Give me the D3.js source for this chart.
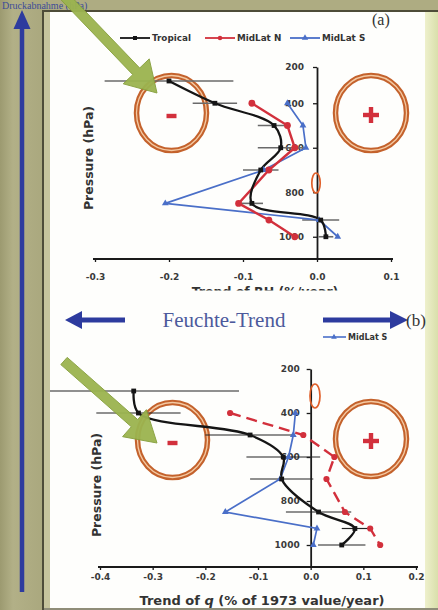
<!DOCTYPE html>
<html><head><meta charset="utf-8">
<script src="https://cdn.jsdelivr.net/npm/d3@7"></script>
<style>
html,body{margin:0;padding:0;background:#aeac82;}
svg{display:block;}
</style></head>
<body>
<script>
// ---------- DATA ----------
const seriesNames = ["Tropical", "MidLat N", "MidLat S"];
const xTicksA = [-0.3, -0.2, -0.1, 0.0, 0.1];
const xTicksB = [-0.4, -0.3, -0.2, -0.1, 0.0, 0.1, 0.2];
const pressureTicks = [200, 400, 600, 800, 1000];

const tropLevels = [300, 400, 500, 600, 700, 850, 925, 1000];
const midLevels  = [400, 500, 600, 700, 850, 925, 1000];

// Panel (a): Trend of RH (%/year)
const tropicalA    = [-0.200, -0.138, -0.058, -0.049, -0.076, -0.088, 0.005, 0.012];
const tropicalErrA = [0.087, 0.030, 0.022, 0.031, 0.024, 0.015, 0.025, 0.010];
const midLatNA     = [-0.088, -0.040, -0.030, -0.065, -0.106, -0.065, -0.030];
const midLatSA     = [-0.040, -0.019, -0.015, -0.072, -0.205, 0.003, 0.028];

// Panel (b): Trend of q (% of 1973 value/year)
const tropicalB    = [-0.336, -0.327, -0.115, -0.052, -0.055, 0.015, 0.084, 0.059];
const tropicalErrB = [0.200, 0.080, 0.085, 0.070, 0.060, 0.062, 0.025, 0.045];
const midLatNB     = [-0.153, -0.014, 0.045, 0.030, 0.065, 0.113, 0.132];
const midLatSB     = [-0.029, -0.033, -0.042, -0.058, -0.162, 0.012, 0.005];

// ---------- STYLE ----------
const C = {black:"#151515", red:"#d2303c", blue:"#4a6fc8", ring:"#c4622c", ringIn:"#f4c9a2",
           green:"#9bb44f", navy:"#2d3b9e", text:"#333"};
const W = 438, H = 610;
const svg = d3.select("body").append("svg").attr("width", W).attr("height", H);
const defs = svg.append("defs");

const lg = defs.append("linearGradient").attr("id","leftg").attr("x1","0").attr("x2","1");
lg.append("stop").attr("offset","0").attr("stop-color","#9c9a70");
lg.append("stop").attr("offset","0.3").attr("stop-color","#b2b087");
lg.append("stop").attr("offset","1").attr("stop-color","#aaa87e");
const rg = defs.append("linearGradient").attr("id","rightg").attr("x1","0").attr("x2","1");
rg.append("stop").attr("offset","0").attr("stop-color","#eef0cc");
rg.append("stop").attr("offset","1").attr("stop-color","#d9dfab");

// background frame
svg.append("rect").attr("width",W).attr("height",H).attr("fill","#aeac82");
svg.append("rect").attr("x",0).attr("y",0).attr("width",43).attr("height",H).attr("fill","url(#leftg)");
svg.append("rect").attr("x",44).attr("y",11).attr("width",8).attr("height",H).attr("fill","#c6c49c");
svg.append("rect").attr("x",425).attr("y",11).attr("width",13).attr("height",H).attr("fill","url(#rightg)");
svg.append("rect").attr("x",50).attr("y",12).attr("width",375).attr("height",596).attr("fill","#fefefc");
svg.append("rect").attr("x",44).attr("y",608).attr("width",394).attr("height",2).attr("fill","#8f8d78");

// top title strip
svg.append("text").attr("x",2).attr("y",8.5).attr("font-family","Liberation Serif, serif")
  .attr("font-size",10).attr("fill","#3c4c98").text("Druckabnahme (hPa)");

svg.append("line").attr("x1",43).attr("x2",43).attr("y1",10).attr("y2",H)
  .attr("stroke","#4e4c38").attr("stroke-width",2);
svg.append("line").attr("x1",43).attr("x2",W).attr("y1",11).attr("y2",11)
  .attr("stroke","#4e4c38").attr("stroke-width",2);

// vertical blue arrow
svg.append("line").attr("x1",22).attr("x2",22).attr("y1",592).attr("y2",24)
  .attr("stroke",C.navy).attr("stroke-width",4.5);
svg.append("path").attr("d","M22,10 L13.5,29 L30.5,29 Z").attr("fill",C.navy);

defs.append("clipPath").attr("id","panelclip").append("rect")
  .attr("x",50).attr("y",12).attr("width",375).attr("height",596);

// ---------- helpers ----------
function ring(g, cx, cy, rx, ry){
  g.append("ellipse").attr("cx",cx).attr("cy",cy).attr("rx",rx).attr("ry",ry)
    .attr("fill","none").attr("stroke",C.ring).attr("stroke-width",5.5);
  g.append("ellipse").attr("cx",cx).attr("cy",cy).attr("rx",rx).attr("ry",ry)
    .attr("fill","none").attr("stroke",C.ringIn).attr("stroke-width",1.3);
}
function minus(g, cx, cy){
  g.append("rect").attr("x",cx-5).attr("y",cy-2.2).attr("width",10).attr("height",4.4).attr("fill",C.red);
}
function plus(g, cx, cy){
  g.append("rect").attr("x",cx-8).attr("y",cy-2.2).attr("width",16).attr("height",4.4).attr("fill",C.red);
  g.append("rect").attr("x",cx-2.2).attr("y",cy-8).attr("width",4.4).attr("height",16).attr("fill",C.red);
}
function greenArrow(g, x0, y0, x1, y1){
  const dx=x1-x0, dy=y1-y0, L=Math.hypot(dx,dy), ux=dx/L, uy=dy/L, nx=-uy, ny=ux;
  const sw=4.8, hl=30, hh=18, bx=x1-ux*hl, by=y1-uy*hl;
  const pts=[[x0+nx*sw,y0+ny*sw],[bx+nx*sw,by+ny*sw],[bx+nx*hh,by+ny*hh],[x1,y1],
             [bx-nx*hh,by-ny*hh],[bx-nx*sw,by-ny*sw],[x0-nx*sw,y0-ny*sw]];
  g.append("path").attr("d","M"+pts.map(p=>p.join(",")).join("L")+"Z")
    .attr("fill",C.green).attr("stroke","#87a03d").attr("stroke-width",1).attr("opacity",0.95);
}
function zeroMark(g, cx, cy, rx, ry){
  g.append("ellipse").attr("cx",cx).attr("cy",cy).attr("rx",rx).attr("ry",ry)
    .attr("fill","none").attr("stroke","#e0602a").attr("stroke-width",1.7);
}
function legendItem(g, x, y, name, color, sym, dashed){
  g.append("line").attr("x1",x).attr("x2",x+30).attr("y1",y).attr("y2",y)
    .attr("stroke",color).attr("stroke-width",1.8).attr("stroke-dasharray",dashed?"5,3":null);
  g.append("path").attr("transform",`translate(${x+15},${y})`)
    .attr("d",d3.symbol().type(sym).size(sym===d3.symbolTriangle?18:16)()).attr("fill",color);
  g.append("text").attr("x",x+32).attr("y",y+3.2).attr("font-family","DejaVu Sans, sans-serif")
    .attr("font-weight","bold").attr("font-size",8.8).attr("fill",C.text).text(name);
}

function drawPanel(cfg){
  const g = svg.append("g").attr("clip-path","url(#panelclip)");
  const x = cfg.x, y = cfg.y;
  ring(g, cfg.minusC[0], cfg.minusC[1], 35, 37.5);
  minus(g, cfg.minusC[0], cfg.minusC[1]+3);
  ring(g, cfg.plusC[0], cfg.plusC[1], 35.5, 37.5);
  plus(g, cfg.plusC[0], cfg.plusC[1]+2);

  const x0 = x(0), yBottom = y(1100);
  const xAxis = g.append("g").attr("transform",`translate(0,${yBottom})`)
    .call(d3.axisBottom(x).tickValues(cfg.xTicks).tickFormat(d=>d.toFixed(1))
      .tickSize(3).tickSizeOuter(0).tickPadding(cfg.xPad));
  const yAxis = g.append("g").attr("transform",`translate(${x0},0)`)
    .call(d3.axisLeft(y).tickValues(pressureTicks).tickFormat(d3.format("d"))
      .tickSize(4).tickSizeOuter(0).tickPadding(cfg.yPad));
  [xAxis,yAxis].forEach(a=>{
    a.select(".domain").attr("stroke","#1a1a1a").attr("stroke-width",1.8);
    a.selectAll(".tick line").attr("stroke","#1a1a1a").attr("stroke-width",1.3);
    a.selectAll("text").attr("font-family","DejaVu Sans, sans-serif").attr("font-weight","bold")
      .attr("font-size",9).attr("fill","#3a3a3a");
  });
  xAxis.select(".domain").attr("d",`M${x.range()[0]-2},0H${x.range()[1]+2}`);

  zeroMark(g, cfg.zeroC[0], cfg.zeroC[1], cfg.zeroC[2], cfg.zeroC[3]);

  g.append("text").attr("transform",`translate(${cfg.ylabX},${cfg.ylabY}) rotate(-90)`)
    .attr("text-anchor","middle").attr("font-family","DejaVu Sans, sans-serif").attr("font-weight","bold")
    .attr("font-size",12.5).attr("fill",C.text).text("Pressure (hPa)");

  g.append("g").selectAll("line").data(tropLevels).join("line")
    .attr("x1",(p,i)=>x(cfg.trop[i]-cfg.err[i])).attr("x2",(p,i)=>x(cfg.trop[i]+cfg.err[i]))
    .attr("y1",p=>y(p)).attr("y2",p=>y(p))
    .attr("stroke",cfg.errColor).attr("stroke-width",cfg.errW);

  const lin = d3.line().x(d=>x(d[1])).y(d=>y(d[0]));
  const smooth = d3.line().x(d=>x(d[1])).y(d=>y(d[0])).curve(d3.curveCatmullRom.alpha(0.5));
  const sS = midLevels.map((p,i)=>[p,cfg.mS[i]]);
  const sN = midLevels.map((p,i)=>[p,cfg.mN[i]]);
  const sT = tropLevels.map((p,i)=>[p,cfg.trop[i]]);
  g.append("path").attr("d",lin(sS)).attr("fill","none").attr("stroke",C.blue).attr("stroke-width",1.7);
  g.append("path").attr("d",lin(sN)).attr("fill","none").attr("stroke",C.red).attr("stroke-width",2.4)
    .attr("stroke-dasharray",cfg.redDash);
  g.append("path").attr("d",smooth(sT)).attr("fill","none").attr("stroke",C.black).attr("stroke-width",2.3);

  g.append("g").selectAll("path").data(sS).join("path")
    .attr("transform",d=>`translate(${x(d[1])},${y(d[0])})`)
    .attr("d",d3.symbol().type(d3.symbolTriangle).size(20)()).attr("fill",C.blue);
  g.append("g").selectAll("circle").data(sN).join("circle")
    .attr("cx",d=>x(d[1])).attr("cy",d=>y(d[0])).attr("r",cfg.redR).attr("fill",C.red);
  g.append("g").selectAll("rect").data(sT).join("rect")
    .attr("x",d=>x(d[1])-2.4).attr("y",d=>y(d[0])-2.4).attr("width",4.8).attr("height",4.8).attr("fill",C.black);
  return g;
}

// ---------- PANEL (a) ----------
const xA = d3.scaleLinear().domain([-0.3, 0.1]).range([95, 391]);
const yA = d3.scaleLinear().domain([200, 300, 1100]).range([67, 81, 259]);
drawPanel({x:xA, y:yA, xTicks:xTicksA, xPad:12, yPad:9, trop:tropicalA, err:tropicalErrA,
  mN:midLatNA, mS:midLatSA, minusC:[171.5,113], plusC:[371,113], zeroC:[316,183,4.2,10],
  ylabX:93, ylabY:158, errColor:"#6a6a6a", errW:1.6, redDash:null, redR:3.4});

const legA = svg.append("g");
legendItem(legA, 120, 38, seriesNames[0], C.black, d3.symbolSquare, false);
legendItem(legA, 205, 38, seriesNames[1], C.red, d3.symbolCircle, false);
legendItem(legA, 290, 38, seriesNames[2], C.blue, d3.symbolTriangle, false);
svg.append("text").attr("x",372).attr("y",25).attr("font-family","Liberation Serif, serif")
  .attr("font-size",16).attr("fill","#333").text("(a)");

defs.append("clipPath").attr("id","titleclip").append("rect").attr("x",50).attr("y",270).attr("width",375).attr("height",20.5);
svg.append("text").attr("clip-path","url(#titleclip)").attr("x",265).attr("y",296).attr("text-anchor","middle")
  .attr("font-family","DejaVu Sans, sans-serif").attr("font-weight","bold").attr("font-size",12.5)
  .attr("fill",C.text).text("Trend of RH (%/year)");

// ---------- PANEL (b) ----------
const xB = d3.scaleLinear().domain([-0.4, 0.2]).range([100, 416]);
const yB = d3.scaleLinear().domain([200, 1100]).range([369, 567]);
drawPanel({x:xB, y:yB, xTicks:xTicksB, xPad:4, yPad:7, trop:tropicalB, err:tropicalErrB,
  mN:midLatNB, mS:midLatSB, minusC:[172.5,440], plusC:[371,439], zeroC:[315,396,5,12],
  ylabX:101, ylabY:485, errColor:"#222", errW:1.2, redDash:"11,6", redR:3.1});

const legB = svg.append("g");
legB.append("line").attr("x1",323).attr("x2",346).attr("y1",337).attr("y2",337).attr("stroke",C.blue).attr("stroke-width",1.6);
legB.append("path").attr("transform","translate(334,337)").attr("d",d3.symbol().type(d3.symbolTriangle).size(14)()).attr("fill",C.blue);
legB.append("text").attr("x",348).attr("y",340).attr("font-family","DejaVu Sans, sans-serif")
  .attr("font-weight","bold").attr("font-size",8).attr("fill",C.text).text(seriesNames[2]);

svg.append("text").attr("x",262).attr("y",605).attr("text-anchor","middle")
  .attr("font-family","DejaVu Sans, sans-serif").attr("font-weight","bold").attr("font-size",13)
  .attr("fill",C.text)
  .call(t=>{ t.append("tspan").text("Trend of ");
             t.append("tspan").attr("font-style","italic").text("q");
             t.append("tspan").text(" (% of 1973 value/year)"); });

// ---------- Feuchte-Trend ----------
svg.append("text").attr("x",224).attr("y",327).attr("text-anchor","middle")
  .attr("font-family","Liberation Serif, serif").attr("font-size",21).attr("fill","#4c5a9c").text("Feuchte-Trend");
svg.append("line").attr("x1",125).attr("x2",80).attr("y1",320).attr("y2",320).attr("stroke",C.navy).attr("stroke-width",5);
svg.append("path").attr("d","M65,320 L82,311 L82,329 Z").attr("fill",C.navy);
svg.append("line").attr("x1",323).attr("x2",392).attr("y1",320).attr("y2",320).attr("stroke",C.navy).attr("stroke-width",5);
svg.append("path").attr("d","M408,320 L390,311 L390,329 Z").attr("fill",C.navy);
svg.append("text").attr("x",406).attr("y",326).attr("font-family","Liberation Serif, serif")
  .attr("font-size",17).attr("fill","#333").text("(b)");

// ---------- green arrows ----------
greenArrow(svg, 64, -4, 157, 93);
greenArrow(svg, 64, 361, 157, 443);
</script>
</body></html>
